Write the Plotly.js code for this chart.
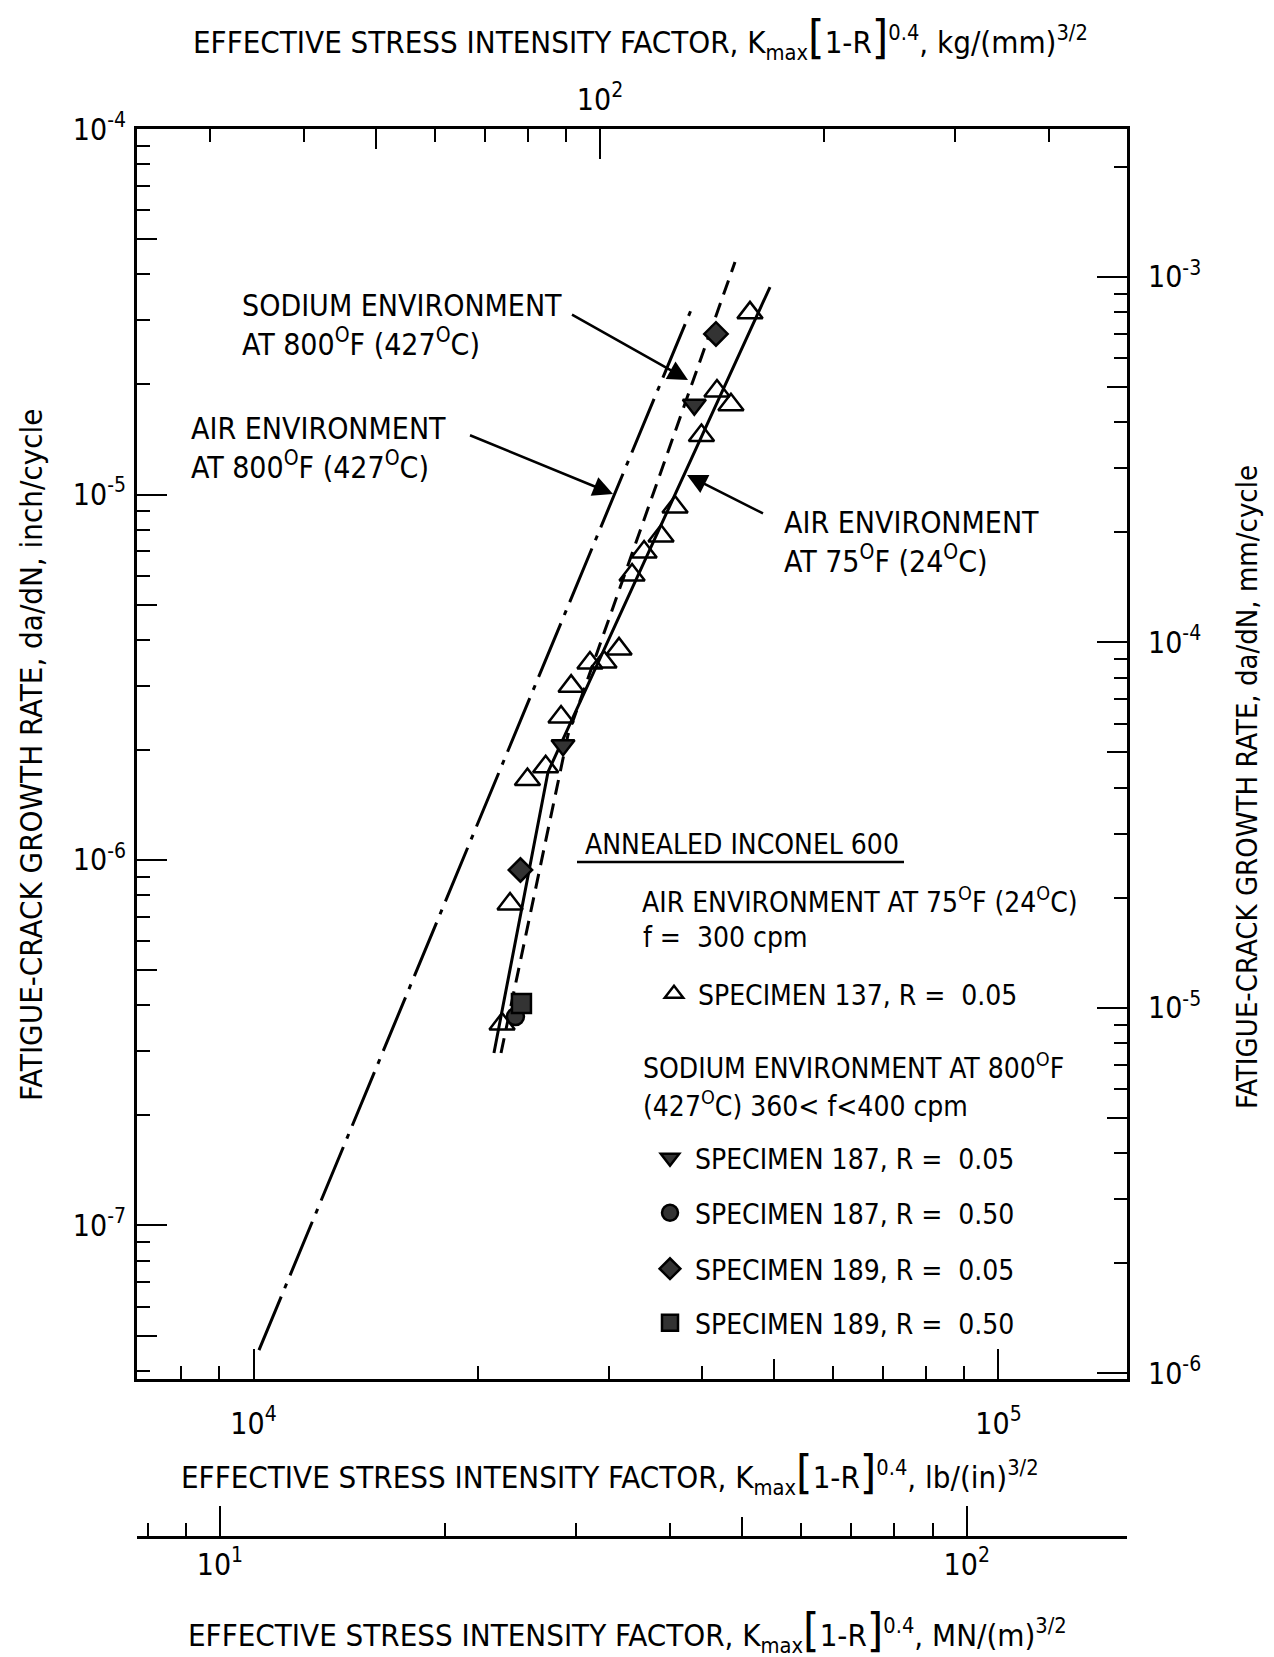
<!DOCTYPE html>
<html>
<head>
<meta charset="utf-8">
<script src="https://cdn.plot.ly/plotly-3.0.1.min.js"></script>
<style>
html,body{margin:0;padding:0;background:#fff;}
#chart{width:1274px;height:1657px;}
</style>
</head>
<body>
<div id="chart"></div>
<script>
// ---------------- DATA ----------------
// x: effective stress intensity factor, lb/(in)^3/2 ; y: da/dN, inch/cycle
const s137_K    = [46390, 41890, 43740, 39930, 36800, 35240, 33440, 32220, 30950, 29540, 28290, 26690, 25870, 24670, 23320, 22100, 21560];
const s137_dadN = [3.14e-5, 1.92e-5, 1.76e-5, 1.45e-5, 9.24e-6, 7.70e-6, 6.96e-6, 6.02e-6, 3.78e-6, 3.48e-6, 3.46e-6, 2.99e-6, 2.46e-6, 1.80e-6, 1.66e-6, 7.58e-7, 3.56e-7];
const s187a_K    = [39060, 26030];
const s187a_dadN = [1.76e-5, 2.06e-6];
const s187b_K    = [22470];
const s187b_dadN = [3.73e-7];
const s189a_K    = [41760, 22820];
const s189a_dadN = [2.75e-5, 9.39e-7];
const s189b_K    = [22890];
const s189b_dadN = [4.05e-7];

// trend lines
const air75_K       = [21025, 24850, 49350];
const air75_dadN    = [2.965e-7, 1.741e-6, 3.695e-5];
const sodium800_K   = [21490, 26430, 44290];
const sodium800_dadN= [2.965e-7, 2.198e-6, 4.325e-5];
const air800_K      = [10170, 38660];
const air800_dadN   = [4.56e-8, 3.197e-5];

// tick values / labels
const lbMajor = [1e4, 1e5];         const lbMajorText = ['10<sup>4</sup>', '10<sup>5</sup>'];
const lbFive  = [5e4];
const lbMinor = [8e3, 9e3, 2e4, 3e4, 4e4, 6e4, 7e4, 8e4, 9e4];
const kgMajor = [100];              const kgMajorText = ['10<sup>2</sup>'];
const kgFive  = [50];
const kgMinor = [30, 40, 60, 70, 80, 90, 200, 300, 400];
const mnMajor = [10, 100];          const mnMajorText = ['10<sup>1</sup>', '10<sup>2</sup>'];
const mnFive  = [50];
const mnMinor = [8, 9, 20, 30, 40, 60, 70, 80, 90];
const inMajor = [1e-4, 1e-5, 1e-6, 1e-7];
const inMajorText = ['10<sup>-4</sup>', '10<sup>-5</sup>', '10<sup>-6</sup>', '10<sup>-7</sup>'];
const inFive  = [5e-5, 5e-6, 5e-7, 5e-8];
const inMinor = [9e-5,8e-5,7e-5,6e-5,4e-5,3e-5,2e-5, 9e-6,8e-6,7e-6,6e-6,4e-6,3e-6,2e-6,
                 9e-7,8e-7,7e-7,6e-7,4e-7,3e-7,2e-7, 9e-8,8e-8,7e-8,6e-8,4e-8];
const mmMajor = [1e-3, 1e-4, 1e-5, 1e-6];
const mmMajorText = ['10<sup>-3</sup>', '10<sup>-4</sup>', '10<sup>-5</sup>', '10<sup>-6</sup>'];
const mmFive  = [5e-4, 5e-5, 5e-6];
const mmMinor = [2e-3, 9e-4,8e-4,7e-4,6e-4,4e-4,3e-4,2e-4, 9e-5,8e-5,7e-5,6e-5,4e-5,3e-5,2e-5,
                 9e-6,8e-6,7e-6,6e-6,4e-6,3e-6,2e-6];

// ---------------- GEOMETRY ----------------
const FONT = '"Liberation Sans Narrow", "DejaVu Sans Condensed", "Arial Narrow", sans-serif';
const M = {l:137, r:147, t:129, b:120};
const PW = 1274 - M.l - M.r, PH = 1657 - M.t - M.b;
const px = v => (v - M.l) / PW;
const py = v => (1657 - M.b - v) / PH;
const frameBottom = 1379;

const lbRange = [3.8436, 5.1725];
const kgRange = [1.3785, 2.7074];
const mnRange = [0.889, 2.2145];
const inRange = [-7.42, -4.0];
const MM_PER_IN_LOG = Math.log10(25.4);
const mmRange = [inRange[0] + MM_PER_IN_LOG, inRange[1] + MM_PER_IN_LOG];

const tickFont = {family: FONT, size: 30, color: '#000'};
function minor(vals, len) {
  return {tickmode: 'array', tickvals: vals, ticks: 'inside', ticklen: len, tickwidth: 2, tickcolor: '#000', showgrid: false};
}
function baseAxis(extra) {
  return Object.assign({type: 'log', showgrid: false, zeroline: false, ticks: 'inside', tickcolor: '#000',
    tickwidth: 2, ticklen: 30, linecolor: '#000', linewidth: 3, tickfont: tickFont, fixedrange: true}, extra);
}
function fiveAxis(extra) {
  return Object.assign({type: 'log', showgrid: false, zeroline: false, ticks: 'inside', tickcolor: '#000',
    tickwidth: 2, ticklen: 20, showline: false, showticklabels: false, tickmode: 'array', fixedrange: true}, extra);
}

const layout = {
  width: 1274, height: 1657,
  margin: M,
  paper_bgcolor: '#fff', plot_bgcolor: 'rgba(0,0,0,0)',
  font: {family: FONT, color: '#000'},
  showlegend: true,
  xaxis: baseAxis({range: lbRange, anchor: 'y', side: 'bottom', showline: true,
    tickmode: 'array', tickvals: lbMajor, ticktext: lbMajorText, ticklabelstandoff: 16, minor: minor(lbMinor, 13)}),
  xaxis2: baseAxis({range: kgRange, anchor: 'y', overlaying: 'x', side: 'top', showline: true,
    tickmode: 'array', tickvals: kgMajor, ticktext: kgMajorText, ticklabelstandoff: 4, minor: minor(kgMinor, 13)}),
  xaxis3: baseAxis({range: mnRange, anchor: 'free', position: 0, overlaying: 'x', side: 'bottom', showline: true,
    tickmode: 'array', tickvals: mnMajor, ticktext: mnMajorText, ticklabelstandoff: 0, minor: minor(mnMinor, 13)}),
  xaxis4: fiveAxis({range: lbRange, anchor: 'y', overlaying: 'x', side: 'bottom', tickvals: lbFive}),
  xaxis5: fiveAxis({range: kgRange, anchor: 'y', overlaying: 'x', side: 'top', tickvals: kgFive}),
  xaxis6: fiveAxis({range: mnRange, anchor: 'free', position: 0, overlaying: 'x', side: 'bottom', tickvals: mnFive}),
  yaxis: baseAxis({range: inRange, domain: [py(frameBottom), 1], anchor: 'x', side: 'left', showline: true,
    tickmode: 'array', tickvals: inMajor, ticktext: inMajorText, ticklabelstandoff: 2, minor: minor(inMinor, 13)}),
  yaxis2: baseAxis({range: mmRange, anchor: 'x', overlaying: 'y', side: 'right', showline: true,
    tickmode: 'array', tickvals: mmMajor, ticktext: mmMajorText, ticklabelstandoff: 12, minor: minor(mmMinor, 13)}),
  yaxis3: fiveAxis({range: inRange, anchor: 'x', overlaying: 'y', side: 'left', tickvals: inFive}),
  yaxis4: fiveAxis({range: mmRange, anchor: 'x', overlaying: 'y', side: 'right', tickvals: mmFive}),
  annotations: [],
  shapes: []
};

// ---------------- TRACES ----------------
const traces = [];
// empty helper traces so every extra axis is drawn
[['x2','y'],['x3','y'],['x4','y'],['x5','y'],['x6','y'],['x','y2'],['x','y3'],['x','y4']].forEach(p => {
  traces.push({type: 'scatter', mode: 'markers', x: [], y: [], xaxis: p[0], yaxis: p[1], showlegend: false, hoverinfo: 'skip'});
});
traces.push({type: 'scatter', mode: 'lines', x: air800_K, y: air800_dadN, showlegend: false,
  line: {color: '#000', width: 3, dash: '58px,9px,5px,9px'}});
traces.push({type: 'scatter', mode: 'lines', x: sodium800_K, y: sodium800_dadN, showlegend: false,
  line: {color: '#000', width: 3, dash: '15px,9px'}});
traces.push({type: 'scatter', mode: 'lines', x: air75_K, y: air75_dadN, showlegend: false,
  line: {color: '#000', width: 3}});

const SHADE = '#333333';
const specimens = [
  {name: 'SPECIMEN 137, R =  0.05', x: s137_K, y: s137_dadN, symbol: 'triangle-up', size: 22, color: 'rgba(255,255,255,0)', legend: 'legend'},
  {name: 'SPECIMEN 187, R =  0.05', x: s187a_K, y: s187a_dadN, symbol: 'triangle-down', size: 20, color: SHADE, legend: 'legend2'},
  {name: 'SPECIMEN 187, R =  0.50', x: s187b_K, y: s187b_dadN, symbol: 'circle', size: 17, color: SHADE, legend: 'legend3'},
  {name: 'SPECIMEN 189, R =  0.05', x: s189a_K, y: s189a_dadN, symbol: 'diamond', size: 18, color: SHADE, legend: 'legend4'},
  {name: 'SPECIMEN 189, R =  0.50', x: s189b_K, y: s189b_dadN, symbol: 'square', size: 19, color: SHADE, legend: 'legend5'}
];
specimens.forEach(s => {
  traces.push({type: 'scatter', mode: 'markers', name: s.name, x: s.x, y: s.y, legend: s.legend,
    marker: {symbol: s.symbol, size: s.size, color: s.color, line: {color: '#000', width: 2.5}}});
});

// legends, one per entry so they can sit exactly where the picture has them
const legendRows = [
  {key: 'legend',  xl: 650, yc: 994, iw: 38},
  {key: 'legend2', xl: 645, yc: 1158, iw: 40},
  {key: 'legend3', xl: 645, yc: 1213, iw: 40},
  {key: 'legend4', xl: 645, yc: 1269, iw: 40},
  {key: 'legend5', xl: 645, yc: 1323, iw: 40}
];
legendRows.forEach(r => {
  layout[r.key] = {x: px(r.xl), y: py(r.yc), xanchor: 'left', yanchor: 'middle', xref: 'paper', yref: 'paper',
    bgcolor: 'rgba(0,0,0,0)', borderwidth: 0, itemsizing: 'trace', itemwidth: r.iw,
    font: {family: FONT, size: 28, color: '#000'}};
});

// ---------------- TEXT ----------------
function note(text, x, y, o) {
  layout.annotations.push(Object.assign({text: text, x: px(x), y: py(y), xref: 'paper', yref: 'paper',
    showarrow: false, font: {family: FONT, size: 30, color: '#000'}, xanchor: 'left', yanchor: 'middle', align: 'left'}, o || {}));
}
const BR = s => '<span style="font-size:47px">' + s + '</span>';
const KEXPR = 'K<sub>max</sub>' + BR('[') + '1-R' + BR(']') + '<sup>0.4</sup>';
const titleFont = {family: FONT, size: 31, color: '#000'};
note('EFFECTIVE STRESS INTENSITY FACTOR, ' + KEXPR + ', kg/(mm)<sup>3/2</sup>', 640, 37, {xanchor: 'center', font: titleFont});
note('EFFECTIVE STRESS INTENSITY FACTOR, ' + KEXPR + ', lb/(in)<sup>3/2</sup>', 610, 1472, {xanchor: 'center', font: titleFont});
note('EFFECTIVE STRESS INTENSITY FACTOR, ' + KEXPR + ', MN/(m)<sup>3/2</sup>', 627, 1630, {xanchor: 'center', font: titleFont});
note('FATIGUE-CRACK GROWTH RATE, da/dN, inch/cycle', 31, 755, {xanchor: 'center', textangle: -90, font: {family: FONT, size: 31, color: '#000'}});
note('FATIGUE-CRACK GROWTH RATE, da/dN, mm/cycle', 1247, 787, {xanchor: 'center', textangle: -90, font: {family: FONT, size: 29, color: '#000'}});

note('SODIUM ENVIRONMENT<br>AT 800<sup>O</sup>F (427<sup>O</sup>C)', 240, 325);
note('AIR ENVIRONMENT<br>AT 800<sup>O</sup>F (427<sup>O</sup>C)', 189, 448);
note('AIR ENVIRONMENT<br>AT 75<sup>O</sup>F (24<sup>O</sup>C)', 782, 542);

const legFont = {family: FONT, size: 28, color: '#000'};
note('ANNEALED INCONEL 600', 583, 844, {font: legFont});
note('AIR ENVIRONMENT AT 75<sup>O</sup>F (24<sup>O</sup>C)', 640, 900, {font: legFont});
note('f =  300 cpm', 641, 937, {font: legFont});
note('SODIUM ENVIRONMENT AT 800<sup>O</sup>F', 641, 1066, {font: legFont});
note('(427<sup>O</sup>C) 360&lt; f&lt;400 cpm', 641, 1104, {font: legFont});
layout.shapes.push({type: 'line', xref: 'paper', yref: 'paper', x0: px(577), x1: px(904), y0: py(862), y1: py(862),
  line: {color: '#000', width: 2.5}});

// arrows (tip in paper coords, tail offset in px)
function arrow(tipX, tipY, tailX, tailY) {
  layout.annotations.push({text: ' ', x: px(tipX), y: py(tipY), xref: 'paper', yref: 'paper', showarrow: true,
    ax: tailX - tipX, ay: tailY - tipY, arrowhead: 2, arrowsize: 1.6, arrowwidth: 2.5, arrowcolor: '#000', standoff: 0, startstandoff: 0});
}
arrow(688, 380, 569, 313);
arrow(613, 494, 467, 434);
arrow(687, 475, 766, 515);

Plotly.newPlot('chart', traces, layout, {staticPlot: true, displayModeBar: false});
</script>
</body>
</html>
